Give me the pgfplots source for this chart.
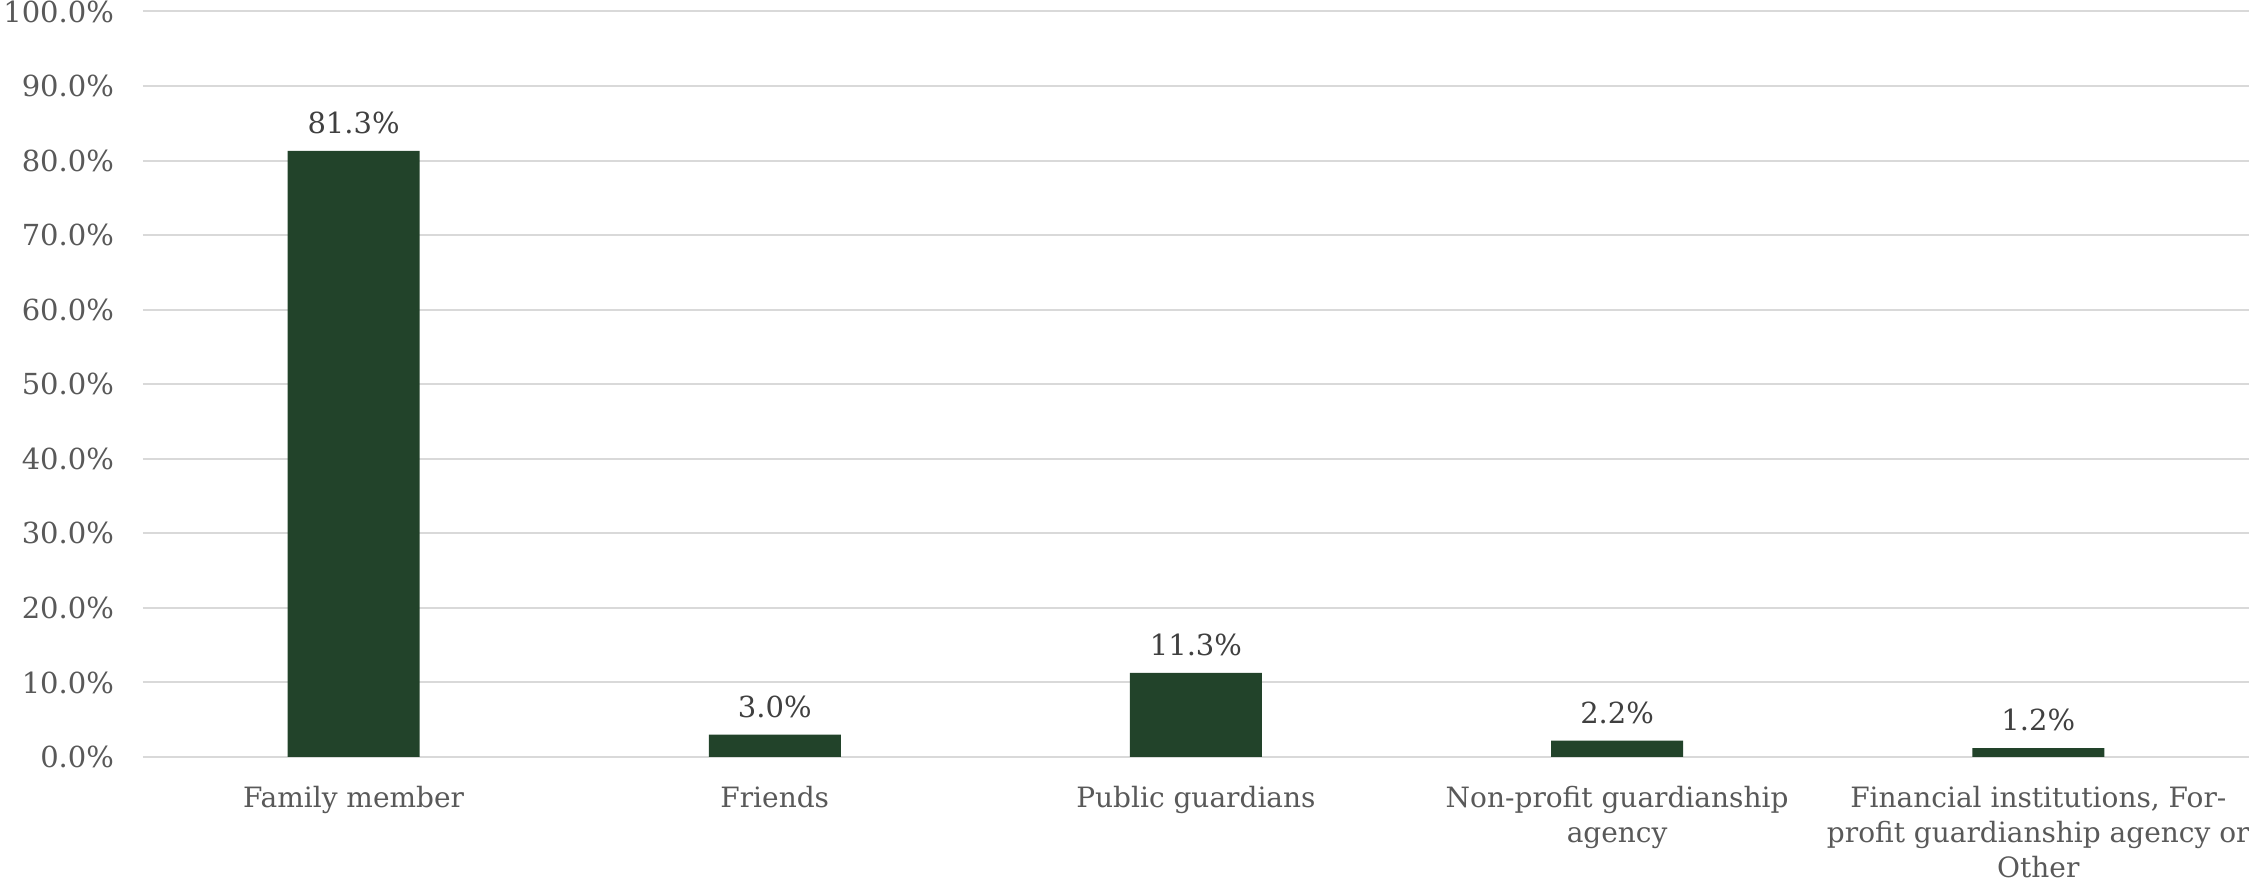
\documentclass[border=0pt]{standalone}
\usepackage{pgfplots}
\pgfplotsset{compat=1.18}
\usepackage{fontspec}
\setmainfont{DejaVu Serif}
\definecolor{bargreen}{HTML}{22432A}
\definecolor{gridgray}{HTML}{D9D9D9}
\definecolor{ticktext}{HTML}{595959}
\definecolor{valtext}{HTML}{404040}
\begin{document}
\begin{tikzpicture}
\begin{axis}[
  at={(0,0)}, anchor=south west,
  scale only axis,
  width=1053pt, height=372.75pt,
  xmin=-0.5, xmax=4.5,
  ymin=0, ymax=100,
  ytick={0,10,...,100},
  xtick={0,1,2,3,4},
  xticklabels={Family member, Friends, Public guardians, {Non-profit guardianship\\agency}, {Financial institutions, For-\\profit guardianship agency or\\Other}},
  xticklabel style={align=center, font=\fontsize{14}{17.5}\selectfont, text=ticktext, yshift=-7pt},
  yticklabel style={font=\fontsize{14.5}{17.5}\selectfont, text=ticktext, xshift=-11pt},
  yticklabel={\pgfmathprintnumber[fixed,fixed zerofill,precision=1]{\tick}\%},
  /pgf/number format/assume math mode=true,
  ymajorgrids, major grid style={gridgray, line width=1pt},
  axis line style={draw=none},
  tick style={draw=none},
  ybar, bar width=66pt,
  nodes near coords={\pgfmathprintnumber[fixed,fixed zerofill,precision=1]{\pgfplotspointmeta}\%},
  every node near coord/.append style={font=\fontsize{14.5}{17.5}\selectfont, text=valtext, yshift=5pt},
  clip=false,
]
\addplot[fill=bargreen, draw=none] coordinates {(0,81.3) (1,3.0) (2,11.3) (3,2.2) (4,1.2)};
\end{axis}
\pgfresetboundingbox
\useasboundingbox (-71.5pt,-63pt) rectangle (1053pt,378.5pt);
\end{tikzpicture}
\end{document}
